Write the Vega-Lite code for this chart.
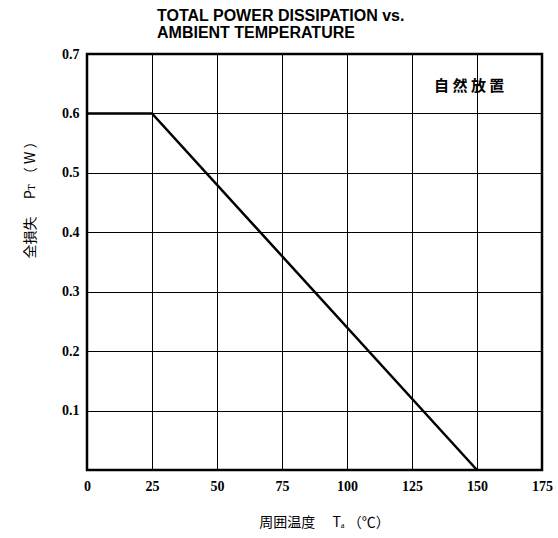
{
  "$schema": "https://vega.github.io/schema/vega-lite/v6.json",
  "autosize": {"type": "none"},
  "padding": {"left": 87, "top": 54, "right": 16, "bottom": 68},
  "width": 455,
  "height": 416,
  "background": "white",
  "title": {
    "text": ["TOTAL POWER DISSIPATION vs.", "AMBIENT TEMPERATURE"],
    "anchor": "start",
    "frame": "group",
    "dx": 70,
    "offset": 6,
    "font": "Liberation Sans",
    "fontSize": 16,
    "fontWeight": "bold",
    "color": "black",
    "lineHeight": 17
  },
  "config": {
    "view": {"stroke": "black", "strokeWidth": 2.5},
    "axis": {
      "grid": true,
      "gridColor": "black",
      "gridWidth": 1,
      "gridOpacity": 1,
      "domain": false,
      "ticks": false,
      "labelFont": "Liberation Serif",
      "labelFontWeight": "bold",
      "labelFontSize": 14,
      "labelColor": "black",
      "titleFont": "Noto Sans CJK JP",
      "titleFontWeight": "normal",
      "titleFontSize": 14,
      "titleColor": "black"
    }
  },
  "layer": [
    {
      "data": {"values": [
        {"Ta": 0, "P": 0.6},
        {"Ta": 25, "P": 0.6},
        {"Ta": 150, "P": 0.0}
      ]},
      "mark": {"type": "line", "color": "black", "strokeWidth": 2.5},
      "encoding": {
        "x": {
          "field": "Ta", "type": "quantitative",
          "scale": {"domain": [0, 175], "nice": false},
          "axis": {
            "values": [0, 25, 50, 75, 100, 125, 150, 175],
            "labelPadding": 9,
            "labelFlush": false,
            "title": "周囲温度　 Tₐ （℃）",
            "titleX": 237,
            "titleY": 52,
            "titleBaseline": "middle"
          }
        },
        "y": {
          "field": "P", "type": "quantitative",
          "scale": {"domain": [0, 0.7], "nice": false},
          "axis": {
            "values": [0, 0.1, 0.2, 0.3, 0.4, 0.5, 0.6, 0.7],
            "format": ".1f",
            "labelExpr": "datum.value == 0 ? '' : datum.label",
            "labelPadding": 8,
            "labelFlush": false,
            "title": "全損失　 Pᴛ （ W ）",
            "titleAngle": -90,
            "titleX": -57,
            "titleY": 142,
            "titleAlign": "center",
            "titleBaseline": "middle"
          }
        }
      }
    },
    {
      "data": {"values": [{"Ta": 147, "P": 0.646, "label": "自 然 放 置"}]},
      "mark": {"type": "text", "font": "Noto Sans CJK JP", "fontWeight": "bold", "fontSize": 15, "color": "black"},
      "encoding": {
        "x": {"field": "Ta", "type": "quantitative"},
        "y": {"field": "P", "type": "quantitative"},
        "text": {"field": "label"}
      }
    }
  ]
}
